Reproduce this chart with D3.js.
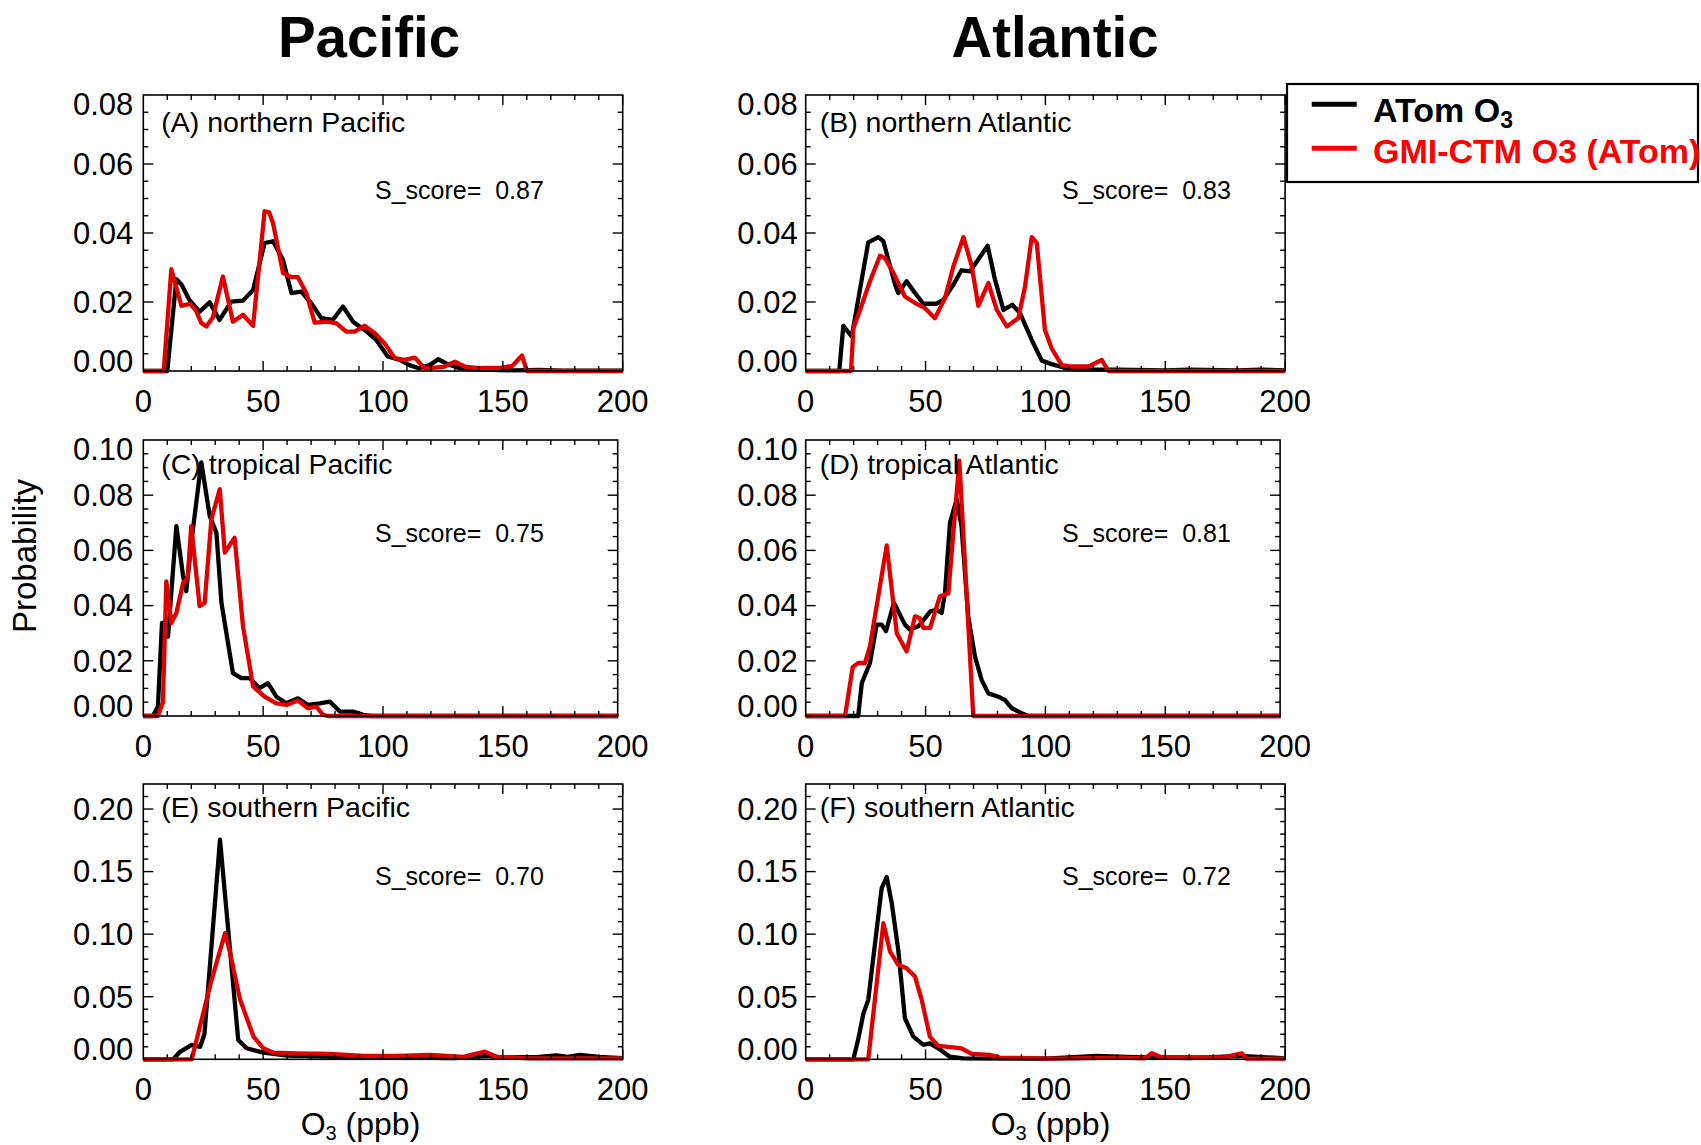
<!DOCTYPE html>
<html><head><meta charset="utf-8">
<script src="https://cdn.jsdelivr.net/npm/d3@7"></script>
<style>body{margin:0;background:#fff}svg{display:block}</style>
</head><body>
<svg id="c" width="1701" height="1145"></svg>
<script>
// ---------------- data (x = O3 ppb, y = probability) ----------------
const npObs = [[0,0],[10,0],[13.8,0.0266],[16,0.025],[19.3,0.0205],[23.5,0.0172],[27.7,0.0199],[31.8,0.0148],[36.7,0.0201],[41.6,0.0204],[45.8,0.0235],[50.6,0.0371],[54.1,0.0376],[58.3,0.0322],[61.8,0.0226],[65.9,0.023],[70,0.0197],[74.3,0.0153],[79,0.0148],[83.3,0.0187],[87.5,0.0143],[92.3,0.0119],[97.2,0.009],[102,0.0042],[107,0.0032],[111,0.0017],[115,0.0008],[119.5,0.0017],[123,0.0034],[126.4,0.0022],[131,0.001],[136,0.0005],[145,0.0003],[155,0.0002],[165,0.0003],[175,0.0001],[200,0.0001]];
const npMod = [[0,0],[8.5,0],[11.7,0.0295],[15.9,0.0189],[19.5,0.0195],[22,0.0175],[24.2,0.0139],[26.3,0.0129],[29,0.0155],[33.2,0.0274],[37.4,0.0143],[41.6,0.0163],[45.8,0.0131],[50.6,0.0463],[52.5,0.046],[54.1,0.0429],[58.3,0.0284],[61.8,0.0272],[64.5,0.0272],[68,0.0226],[71.5,0.014],[76.4,0.0143],[80.5,0.0139],[84.7,0.0114],[88.2,0.0114],[92.3,0.0131],[96.5,0.011],[100.7,0.008],[104.9,0.0037],[109,0.0032],[113.2,0.0039],[117.4,0.0008],[121.6,0.001],[125.7,0.0013],[130,0.0027],[134,0.0013],[140,0.0008],[150,0.001],[154,0.0015],[158,0.0045],[160,0],[200,0]];
const naObs = [[0,0],[14,0],[15.7,0.0131],[19.2,0.01],[26.1,0.0373],[30.3,0.0388],[32.4,0.0376],[37.3,0.025],[38.6,0.0226],[42.1,0.026],[45.6,0.0226],[49.1,0.0195],[54.6,0.0195],[57.4,0.0206],[61.6,0.025],[65,0.0292],[68.6,0.0289],[72,0.0323],[75.9,0.0363],[79,0.0264],[82.5,0.0177],[86.2,0.0192],[89.4,0.0168],[94.3,0.009],[98.5,0.003],[102.6,0.002],[107.5,0.001],[112.4,0.0005],[130,0.0004],[150,0.0002],[160,0.0004],[180,0.0002],[190,0.0004],[200,0.0002]];
const naMod = [[0,0],[18.9,0],[19.9,0.0124],[22.7,0.0177],[26.8,0.026],[31,0.0334],[33.1,0.0327],[36.6,0.0284],[41.4,0.0216],[45.6,0.0197],[49.8,0.0182],[53.9,0.0153],[58.1,0.0211],[61.6,0.0303],[65.8,0.0388],[69.3,0.0303],[72,0.0189],[76.2,0.0255],[79.7,0.0177],[83.9,0.0129],[88.7,0.0153],[91.5,0.0245],[94.3,0.0388],[96.4,0.0371],[99.8,0.0119],[102.6,0.0066],[106.8,0.0017],[111,0.0013],[118,0.0013],[123.5,0.0032],[126.3,0],[200,0]];
const tpObs = [[0,0],[4,0],[6.1,0.0034],[7.8,0.0337],[10.3,0.0288],[13.8,0.0688],[16.6,0.0507],[17.9,0.0452],[20.7,0.0676],[24.2,0.0919],[27.7,0.0725],[30.5,0.0664],[32.6,0.041],[37.4,0.0155],[40.9,0.0137],[44.4,0.0137],[48.5,0.0101],[52,0.0119],[55.5,0.007],[59.7,0.0046],[64.5,0.0064],[68.7,0.004],[73.6,0.0046],[77.8,0.0052],[82,0.0016],[87.5,0.0016],[91.7,0.0004],[95,0],[200,0]];
const tpMod = [[0,0],[6.1,0],[8.2,0.005],[9.6,0.0488],[11.7,0.0337],[13.8,0.0373],[16.6,0.0482],[18.5,0.05],[20,0.0688],[23.5,0.0398],[25.6,0.041],[28.4,0.0713],[31.9,0.0822],[34,0.0592],[38.1,0.0646],[41.6,0.0325],[45.8,0.0107],[50.6,0.007],[55.5,0.0046],[59.7,0.004],[64.5,0.0056],[68.7,0.0028],[72.2,0.0034],[75,0.0004],[77,0],[200,0]];
const taObs = [[0,0],[21.9,0],[23.4,0.0119],[26.8,0.0192],[29.6,0.0331],[31.7,0.0331],[33.5,0.0307],[36.8,0.041],[41.4,0.0331],[43.5,0.0313],[47,0.0325],[52,0.0379],[54.7,0.0385],[56.7,0.0373],[58.1,0.0446],[60.2,0.0701],[63,0.0785],[65,0.0688],[67.8,0.0361],[70.6,0.0216],[73.4,0.0131],[76.2,0.0082],[80.4,0.007],[83.1,0.0058],[86,0.0028],[90.1,0.001],[92.9,0],[200,0]];
const taMod = [[0,0],[16.4,0],[19.6,0.0177],[21.9,0.0192],[24.7,0.0192],[26.8,0.0252],[33.8,0.0618],[38,0.030],[42.1,0.0234],[45.6,0.0361],[47.5,0.0355],[49.1,0.0319],[51.9,0.0319],[56,0.0434],[59.5,0.0444],[64.1,0.0925],[69.9,0],[200,0]];
const spObs = [[0,0],[12.5,0],[15.3,0.006],[20.2,0.0115],[23.7,0.010],[25.5,0.02],[32,0.1755],[39.6,0.0155],[43.1,0.0088],[50.1,0.0053],[60,0.003],[80,0.002],[100,0.002],[120,0.0012],[130,0.001],[143.3,0.0027],[150,0.0015],[165,0.002],[172.4,0.0032],[177,0.002],[182.2,0.0035],[190,0.002],[200,0.001]];
const spMod = [[0,0],[20.2,0],[28.5,0.0635],[34.1,0.1008],[36.2,0.085],[40.4,0.0475],[46,0.0181],[50.1,0.0088],[54.3,0.0053],[64,0.0048],[77.9,0.0043],[91.8,0.0027],[105.7,0.0027],[119.6,0.0035],[133.5,0.002],[142.5,0.0061],[147.3,0.002],[161.2,0.0008],[200,0.0008]];
const saObs = [[0,0],[19.9,0],[22,0.0168],[24.1,0.0368],[26.1,0.0475],[31.7,0.1368],[33.8,0.1456],[35.9,0.1248],[38.6,0.0875],[41.4,0.0328],[44.9,0.0181],[49.1,0.0115],[51.8,0.0128],[55.3,0.0088],[60.1,0.0021],[65.7,0.0008],[100,0.0005],[121.4,0.0027],[133.9,0.002],[143.6,0.0016],[160,0.001],[181.2,0.0027],[200,0.0008]];
const saMod = [[0,0],[26.1,0],[32.4,0.1088],[35.2,0.0861],[38.6,0.0755],[42.1,0.0728],[45.6,0.0661],[48.4,0.0475],[51.8,0.0181],[55.3,0.0107],[61.5,0.0096],[65,0.0088],[69.2,0.0043],[76.8,0.0035],[81,0.0013],[104.7,0.0005],[132.5,0.0013],[141.6,0.0008],[144.4,0.0048],[147.9,0.002],[174.3,0.0016],[181.9,0.0048],[184,0.0005],[200,0.0005]];

const panelLabels = ["(A) northern Pacific","(B) northern Atlantic","(C) tropical Pacific","(D) tropical Atlantic","(E) southern Pacific","(F) southern Atlantic"];
const sScores = ["0.87","0.83","0.75","0.81","0.70","0.72"];
const obsSeries = [npObs, naObs, tpObs, taObs, spObs, saObs];
const modSeries = [npMod, naMod, tpMod, taMod, spMod, saMod];
const xTicks = [0,50,100,150,200];
const yMaxByRow = [0.08, 0.10, 0.22];
const yTicksByRow = [[0,0.02,0.04,0.06,0.08],[0,0.02,0.04,0.06,0.08,0.10],[0,0.05,0.10,0.15,0.20]];
const yMinorByRow = [0.005, 0.005, 0.01];
const columnTitles = ["Pacific","Atlantic"];
const legendNames = ["ATom O", "GMI-CTM O3 (ATom)"];

// ---------------- layout ----------------
const FONT = "'Liberation Sans', Arial, Helvetica, sans-serif";
const svg = d3.select("#c");
svg.append("rect").attr("width",1701).attr("height",1145).attr("fill","#fff");

const colLeft = [143.3, 805.7];
const W = 479.4;
const rowTop = [95, 440, 784];
const rowH = [276, 276, 275.3];
const shrink = [0,0,5,5,0,0];          // C and D frames are slightly narrower
const RED = "#e00000";
const LW = 4.3;

panelLabels.forEach((lab, i) => {
  const col = i % 2, row = Math.floor(i / 2);
  const H = rowH[row];
  const fw = W - shrink[i];
  const x = d3.scaleLinear().domain([0,200]).range([0,W]);
  const y = d3.scaleLinear().domain([0,yMaxByRow[row]]).range([H,0]);
  const g = svg.append("g").attr("transform",`translate(${colLeft[col]},${rowTop[row]})`);

  const cid = "clip"+i;
  g.append("clipPath").attr("id",cid).append("rect")
    .attr("x",-3).attr("y",-3).attr("width",fw+3.5).attr("height",H+6);

  const line = d3.line().x(d=>x(d[0])).y(d=>y(d[1]));
  const lg = g.append("g").attr("clip-path",`url(#${cid})`);
  lg.append("path").datum(obsSeries[i]).attr("d",line)
    .attr("fill","none").attr("stroke","#000").attr("stroke-width",LW).attr("stroke-linejoin","round");
  lg.append("path").datum(modSeries[i]).attr("d",line)
    .attr("fill","none").attr("stroke",RED).attr("stroke-width",LW).attr("stroke-linejoin","round");

  g.append("rect").attr("width",fw).attr("height",H)
    .attr("fill","none").attr("stroke","#000").attr("stroke-width",1.6);

  const tk = g.append("g").attr("stroke","#000").attr("stroke-width",1.4);
  const xMinor = d3.range(0,200.001,10);
  xMinor.forEach(v => {
    const px = x(v);
    if (px > fw + 0.5 || px < 0.5) return;
    const len = xTicks.includes(v) ? 10 : 5;
    tk.append("line").attr("x1",px).attr("x2",px).attr("y1",H).attr("y2",H-len);
    tk.append("line").attr("x1",px).attr("x2",px).attr("y1",0).attr("y2",len);
  });
  const ym = yMinorByRow[row];
  const nY = Math.round(yMaxByRow[row]/ym);
  for (let k = 1; k < nY; k++) {
    const v = k*ym;
    const py = y(v);
    const major = yTicksByRow[row].some(t => Math.abs(t - v) < 1e-9);
    const len = major ? 10 : 5;
    tk.append("line").attr("x1",0).attr("x2",len).attr("y1",py).attr("y2",py);
    tk.append("line").attr("x1",fw).attr("x2",fw-len).attr("y1",py).attr("y2",py);
  }

  g.append("g").selectAll("text").data(xTicks).join("text")
    .attr("x",d=>x(d)).attr("y",H+41).attr("text-anchor","middle")
    .attr("font-family",FONT).attr("font-size",31).attr("fill","#000").text(d=>d);

  const yMax = yMaxByRow[row];
  g.append("g").selectAll("text").data(yTicksByRow[row]).join("text")
    .attr("x", col === 0 ? -10 : -8)
    .attr("y", d => y(d) + (d === 0 ? -10 : (Math.abs(d - yMax) < 1e-9 ? 9 : 0)))
    .attr("dy","0.35em").attr("text-anchor","end")
    .attr("font-family",FONT).attr("font-size",31).attr("fill","#000")
    .text(d => d3.format(".2f")(d));

  g.append("text").attr("x", col === 0 ? 18 : 14).attr("y",[37,34,33][row])
    .attr("font-family",FONT).attr("font-size",28.5).attr("fill","#000").text(lab);
  g.append("text").attr("x", col === 0 ? 231.7 : 256.3).attr("y",[104,102,101][row])
    .attr("font-family",FONT).attr("font-size",25).attr("fill","#000")
    .style("white-space","pre").text("S_score=  " + sScores[i]);
});

svg.selectAll("text.ct").data(columnTitles).join("text").attr("class","ct")
  .attr("x",(d,i)=>[369,1055][i]).attr("y",57).attr("text-anchor","middle")
  .attr("font-family",FONT).attr("font-weight","bold").attr("font-size",56.5).attr("fill","#000")
  .text(d=>d);

[360.5, 1050.5].forEach(cx => {
  const t = svg.append("text").attr("x",cx).attr("y",1135).attr("text-anchor","middle")
    .attr("font-family",FONT).attr("font-size",32).attr("fill","#000");
  t.append("tspan").text("O");
  t.append("tspan").attr("font-size",20).attr("dy",5).text("3");
  t.append("tspan").attr("dy",-5).text(" (ppb)");
});

svg.append("text").attr("transform","translate(36,556) rotate(-90)")
  .attr("text-anchor","middle").attr("font-family",FONT).attr("font-size",33).attr("fill","#000")
  .text("Probability");

const lgd = svg.append("g");
lgd.append("rect").attr("x",1287).attr("y",84).attr("width",411).attr("height",98)
  .attr("fill","#fff").attr("stroke","#000").attr("stroke-width",2.2);
lgd.append("line").attr("x1",1311.7).attr("x2",1356.7).attr("y1",104.3).attr("y2",104.3)
  .attr("stroke","#000").attr("stroke-width",5);
lgd.append("line").attr("x1",1311.7).attr("x2",1356.7).attr("y1",148.3).attr("y2",148.3)
  .attr("stroke","#ff0000").attr("stroke-width",5);
const l1 = lgd.append("text").attr("x",1373).attr("y",122)
  .attr("font-family",FONT).attr("font-weight","bold").attr("font-size",34).attr("fill","#000");
l1.append("tspan").text(legendNames[0]);
l1.append("tspan").attr("font-size",23).attr("dy",6).text("3");
lgd.append("text").attr("x",1373).attr("y",163)
  .attr("font-family",FONT).attr("font-weight","bold").attr("font-size",34).attr("fill","#ff0000")
  .text(legendNames[1]);
</script>
</body></html>
